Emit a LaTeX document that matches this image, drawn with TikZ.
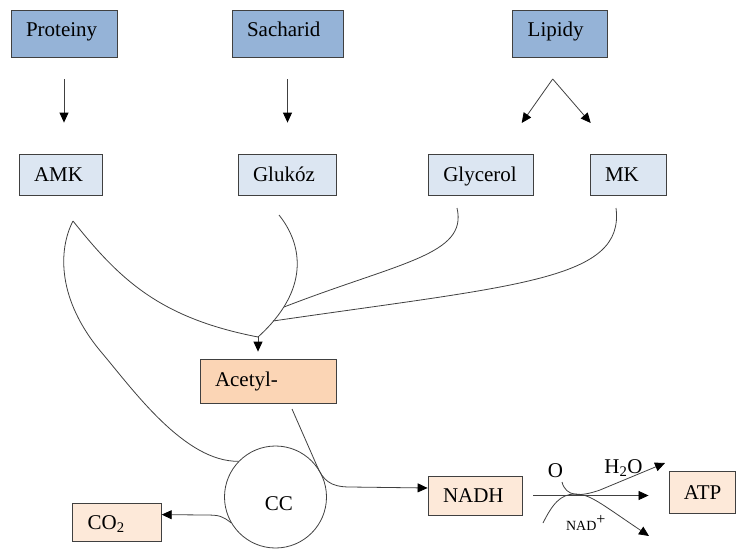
\documentclass[tikz,border=0pt]{standalone}
\usepackage{fontspec}
\setmainfont{Liberation Serif}
\usetikzlibrary{arrows.meta}

\definecolor{modra}{HTML}{95B3D7}
\definecolor{svetlemodra}{HTML}{DCE6F2}
\definecolor{oranzova}{HTML}{FBD5B5}
\definecolor{svetleoranzova}{HTML}{FDE9D9}
\definecolor{cara}{HTML}{404040}

\tikzset{
    ramecek/.style={rectangle, draw=cara, line width=0.8pt, inner ysep=0pt, inner xsep=15pt, align=left, text height=14pt, text depth=0pt},
    zdroj/.style={ramecek, fill=modra, minimum height=47pt, text depth=7pt},
    produkt/.style={ramecek, fill=svetlemodra, minimum height=41pt},
    acetyl/.style={ramecek, fill=oranzova, minimum height=44pt, text depth=4pt},
    svetly/.style={ramecek, fill=svetleoranzova},
    kruh/.style={circle, draw=cara, line width=0.8pt, minimum size=102pt, inner sep=0pt, text width=35pt, align=right, text height=26pt, text depth=0pt},
    popis/.style={inner sep=0pt, anchor=base},
    krivka/.style={draw=cara, line width=0.8pt},
    sipka/.style={krivka, -{Triangle[width=9pt,length=10pt,color=black]}}
}

\begin{document}
\begin{tikzpicture}[x=1pt, y=-1pt, font=\fontsize{21}{25}\selectfont]
    \useasboundingbox (0,0) rectangle (736,551);
    \path node[zdroj, text width=76pt] (P) at (64,33.5) {Proteiny}
        node[zdroj, text width=81pt] (S) at (287.5,33.5) {Sacharid}
        node[zdroj, text width=64.6pt] (L) at (560,33.5) {Lipidy}
        node[produkt, text width=53pt] (AMK) at (60.5,174.5) {AMK}
        node[produkt, text width=68pt] (GL) at (287,174.5) {Glukóz}
        node[produkt, text width=75pt] (GY) at (480.8,174.5) {Glycerol}
        node[produkt, text width=46pt] (MK) at (628,174.5) {MK}
        node[acetyl, text width=106pt] (AC) at (268,381) {Acetyl-}
        node[kruh] (CC) at (275.5,497) {CC}
        node[svetly, text width=58.6pt, minimum height=38.4pt] (CO) at (117,522.5) {CO\textsubscript{2}}
        node[svetly, text width=64pt, minimum height=39pt] (NADH) at (475,495.5) {NADH}
        node[svetly, text width=36.5pt, minimum height=42pt] (ATP) at (702.2,492) {ATP}
        node[popis] (O) at (555.5,477) {O}
        node[popis] (HO) at (623.5,473) {H\textsubscript{2}O}
        node[popis, font=\fontsize{14}{16}\selectfont] (NAD) at (586,530) {NAD\textsuperscript{\fontsize{16}{16}\selectfont +}};
    \path coordinate (LV) at (552.7,79)
        coordinate (GYs) at (521.7,123)
        coordinate (MKs) at (590.7,123)
        coordinate (AMKk) at (73,221)
        coordinate (GLk) at (279,215)
        coordinate (GYk) at (457,208)
        coordinate (MKk) at (616,208)
        coordinate (J1) at (284,307)
        coordinate (J2) at (273,321)
        coordinate (SPOJ) at (258,337)
        coordinate (ACk) at (292,409)
        coordinate (Ok) at (562,482)
        coordinate (HOs) at (665,463)
        coordinate (NADk) at (543,523)
        coordinate (NADs) at (649,536);
    \draw[sipka, shorten <=22pt, shorten >=31pt] (P.south) -- (P.south |- AMK.north);
    \draw[sipka, shorten <=22pt, shorten >=31pt] (S.south) -- (S.south |- GL.north);
    \draw[sipka] (LV) -- (GYs);
    \draw[sipka] (LV) -- (MKs);
    \draw[krivka] (AMKk) .. controls (58,250) and (57,300) .. (102,353) .. controls (134,391) and (185,462) .. (CC.136);
    \draw[krivka] (AMKk) .. controls (120,280) and (160,318) .. (SPOJ);
    \draw[krivka] (GLk) .. controls (303,245) and (310,290) .. (SPOJ);
    \draw[krivka] (GYk) .. controls (468,255) and (400,262) .. (J1);
    \draw[krivka] (MKk) .. controls (625,280) and (520,285) .. (J2);
    \draw[sipka, shorten >=7pt] (SPOJ) -- (SPOJ |- AC.north);
    \draw[sipka] (ACk) -- (317,466) .. controls (323,480) and (330,487) .. (350,487) -- (NADH.171);
    \draw[sipka] (CC.210) .. controls (222,516) and (220,515) .. (205,515) -- (CO.10);
    \draw[sipka, shorten <=11pt, shorten >=20pt] (NADH.east) -- (NADH.east -| ATP.west);
    \draw[sipka] (Ok) .. controls (566,497) and (580,497) .. (600,490) -- (HOs);
    \draw[sipka] (NADk) .. controls (552,505) and (560,494) .. (575,494) .. controls (590,494) and (600,503) .. (NADs);
\end{tikzpicture}
\end{document}
